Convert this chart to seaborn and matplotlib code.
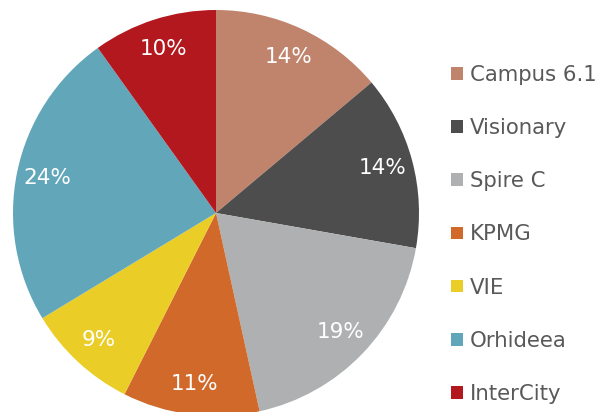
import matplotlib.pyplot as plt
import seaborn as sns
from matplotlib.patches import Patch

sns.set_theme(style="white")
plt.rcParams['font.family'] = ['DejaVu Sans']

labels = ['Campus 6.1', 'Visionary', 'Spire C', 'KPMG', 'VIE', 'Orhideea', 'InterCity']
values = [13.9, 13.9, 18.8, 10.9, 8.9, 23.8, 9.9]
colors = sns.color_palette(['#C0846C', '#4D4D4D', '#AEB0B1', '#D0692A',
                            '#EACD27', '#62A6BA', '#B3181F'])

fig = plt.figure(figsize=(5.98, 4.12), dpi=100)
W, H = 598, 412
cx, cy, r = 216, 213, 203
ax = fig.add_axes([(cx - r) / W, (H - cy - r) / H, 2 * r / W, 2 * r / H])
ax.pie(values, colors=colors, startangle=90, counterclock=False,
       autopct='%.0f%%', pctdistance=0.85, radius=1,
       wedgeprops=dict(linewidth=0, edgecolor='none'),
       textprops=dict(color='white', fontsize=15.5))
ax.set_xlim(-1, 1)
ax.set_ylim(-1, 1)
ax.set_aspect('equal')
ax.axis('off')

handles = [Patch(facecolor=c, edgecolor='none') for c in colors]
fig.legend(handles, labels, loc='upper left', bbox_to_anchor=(451 / W, 1 - 65 / H),
           frameon=False, fontsize=15.3, labelcolor='#595959',
           handlelength=0.55, handleheight=0.55, handletextpad=0.35,
           labelspacing=1.56, borderaxespad=0, borderpad=0)

fig.savefig('out.png', dpi=100)
